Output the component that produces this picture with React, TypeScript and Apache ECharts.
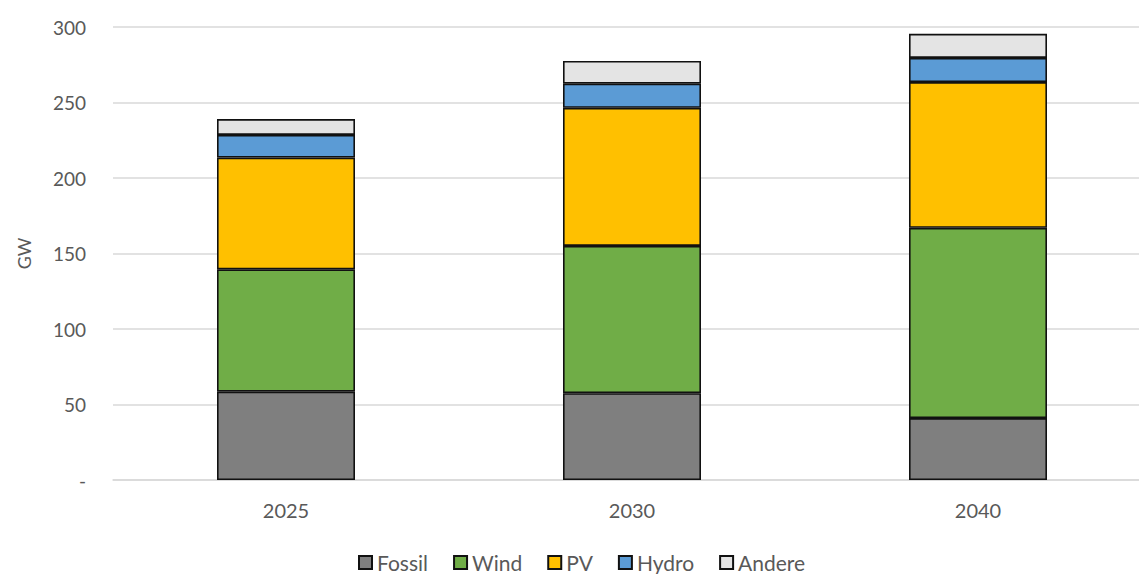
import React, { useEffect, useRef } from "react";
import * as echarts from "echarts";

// Installed capacity by technology, GW
const years = ["2025", "2030", "2040"];
const fossil = [58.5, 57.5, 41];
const wind = [81, 97.5, 126];
const pv = [74, 91.5, 96.5];
const hydro = [15, 16, 16];
const andere = [10.5, 15, 16];

const seriesDefs = [
  { name: "Fossil", data: fossil, color: "#7f7f7f" },
  { name: "Wind", data: wind, color: "#70ad47" },
  { name: "PV", data: pv, color: "#ffc000" },
  { name: "Hydro", data: hydro, color: "#5b9bd5" },
  { name: "Andere", data: andere, color: "#e4e4e4" },
];

const FONT = "Lato, 'Open Sans', sans-serif";
const TEXT = "#595959";

export default function App() {
  const ref = useRef<HTMLDivElement>(null);

  useEffect(() => {
    if (!ref.current) return;
    const chart = echarts.init(ref.current, undefined, { renderer: "svg" });
    chart.setOption({
      animation: false,
      backgroundColor: "#ffffff",
      textStyle: { fontFamily: FONT },
      grid: { left: 113, right: 0, top: 27, bottom: 94 },
      legend: {
        left: 358,
        top: 552,
        padding: 0,
        itemWidth: 13,
        itemHeight: 13,
        itemGap: 25,
        icon: "rect",
        textStyle: { color: TEXT, fontSize: 21, fontFamily: FONT },
        data: seriesDefs.map((s) => s.name),
      },
      xAxis: {
        type: "category",
        data: years,
        axisLine: { show: true, lineStyle: { color: "#d9d9d9", width: 1.5 } },
        axisTick: { show: false },
        axisLabel: { color: TEXT, fontSize: 20, margin: 20, fontFamily: FONT },
      },
      yAxis: {
        type: "value",
        min: 0,
        max: 300,
        interval: 50,
        name: "GW",
        nameLocation: "middle",
        nameRotate: 90,
        nameGap: 80,
        nameTextStyle: { color: TEXT, fontSize: 18, fontFamily: FONT },
        axisLine: { show: false },
        axisTick: { show: false },
        splitLine: { lineStyle: { color: "#d9d9d9", width: 1.5 } },
        axisLabel: {
          color: TEXT,
          fontSize: 19,
          margin: 27,
          fontFamily: FONT,
          formatter: (v: number) => (v === 0 ? "-" : String(v)),
        },
      },
      series: seriesDefs.map((s) => ({
        name: s.name,
        type: "bar",
        stack: "total",
        barWidth: 138,
        data: s.data,
        itemStyle: { color: s.color, borderColor: "#111111", borderWidth: 1.6 },
      })),
    });
    return () => chart.dispose();
  }, []);

  // The plot runs a little past the right edge of the visible frame
  return (
    <div
      style={{
        position: "fixed",
        left: 0,
        top: 0,
        width: 1139,
        height: 574,
        overflow: "hidden",
        background: "#ffffff",
      }}
    >
      <div ref={ref} style={{ width: 1151, height: 574 }} />
    </div>
  );
}
